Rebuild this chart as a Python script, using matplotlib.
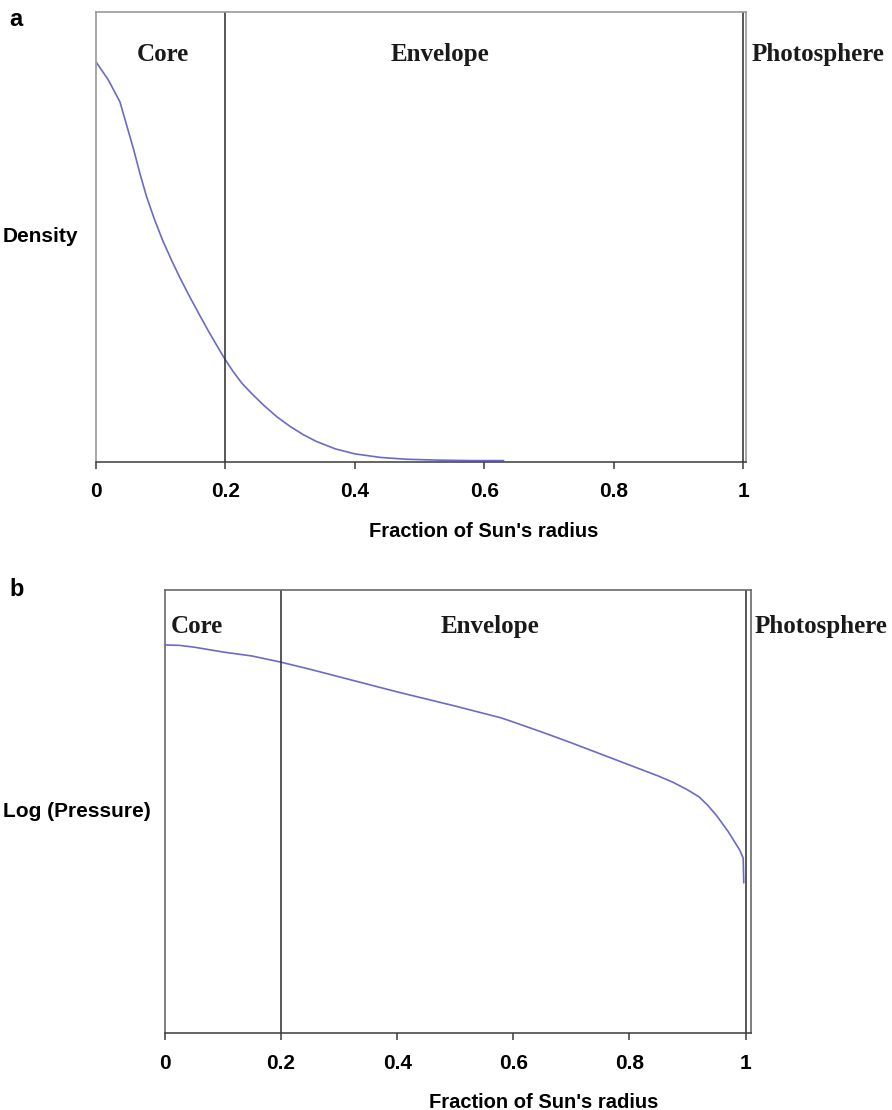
import matplotlib
matplotlib.use("Agg")
import matplotlib.pyplot as plt

# Radial profiles, r in fractions of the solar radius, values in relative units
density_r = [0.0, 0.019, 0.037, 0.047, 0.058, 0.068, 0.078, 0.09, 0.103, 0.117,
             0.13, 0.145, 0.16, 0.175, 0.19, 0.2, 0.212, 0.225, 0.24, 0.26,
             0.28, 0.30, 0.32, 0.34, 0.37, 0.40, 0.44, 0.48, 0.53, 0.58, 0.63]
density_v = [0.889, 0.849, 0.800, 0.750, 0.695, 0.640, 0.590, 0.540, 0.492, 0.447,
             0.408, 0.366, 0.326, 0.287, 0.250, 0.226, 0.200, 0.175, 0.152, 0.124,
             0.099, 0.078, 0.060, 0.045, 0.028, 0.017, 0.009, 0.005, 0.003, 0.002,
             0.002]

pressure_r = [0.0, 0.025, 0.05, 0.1, 0.15, 0.2, 0.25, 0.3, 0.35, 0.4, 0.45, 0.5,
              0.58, 0.6, 0.65, 0.7, 0.75, 0.8, 0.85, 0.875, 0.9, 0.92, 0.935,
              0.95, 0.97, 0.99, 0.996, 0.997]
pressure_v = [0.876, 0.875, 0.871, 0.860, 0.851, 0.837, 0.821, 0.804, 0.787, 0.770,
              0.754, 0.738, 0.711, 0.702, 0.679, 0.655, 0.630, 0.605, 0.580, 0.566,
              0.549, 0.533, 0.514, 0.491, 0.455, 0.413, 0.395, 0.339]

tick_values = [0, 0.2, 0.4, 0.6, 0.8, 1]
tick_labels = ["0", "0.2", "0.4", "0.6", "0.8", "1"]
boundaries = [0.2, 1.0]
zones = ["Core", "Envelope", "Photosphere"]

W, H = 892, 1110
fig = plt.figure(figsize=(W / 100, H / 100), dpi=100)

sans = "Liberation Sans"
serif = "Liberation Serif"
curve_color = "#6b6bc6"


def px_rect(left, top, right, bottom):
    return [left / W, 1 - bottom / H, (right - left) / W, (bottom - top) / H]


def panel(rect, xmax, r, v, ylabel, letter, letter_xy, label_x, zone_pos, frame_color):
    ax = fig.add_axes(rect)
    ax.plot(r, v, color=curve_color, lw=1.2, solid_capstyle="round",
            solid_joinstyle="round")
    ax.set_xlim(0, xmax)
    ax.set_ylim(0, 1)
    for b in boundaries:
        ax.axvline(b, color="#2a2a2a", lw=1.1)
    for side in ("left", "top", "right"):
        ax.spines[side].set_color(frame_color)
        ax.spines[side].set_linewidth(1.2)
    ax.spines["bottom"].set_color("#3a3a3a")
    ax.spines["bottom"].set_linewidth(1.1)
    ax.set_yticks([])
    ax.set_xticks(tick_values)
    ax.set_xticklabels(tick_labels, fontfamily=sans, fontweight="bold", fontsize=15)
    ax.tick_params(axis="x", direction="out", length=5, width=1.1,
                   color="#3a3a3a", pad=10)
    ax.set_xlabel("Fraction of Sun's radius", fontfamily=sans, fontweight="bold",
                  fontsize=14.5)
    ax.xaxis.set_label_coords(label_x, -0.135)
    # y-axis caption at the left edge of the figure
    pos = ax.get_position()
    fig.text(3 / W, pos.y0 + pos.height / 2, ylabel, fontfamily=sans,
             fontweight="bold", fontsize=15, ha="left", va="center")
    fig.text(letter_xy[0] / W, 1 - letter_xy[1] / H, letter, fontfamily=sans,
             fontweight="bold", fontsize=17, ha="left", va="center")
    for name, (zx, zy, ha) in zip(zones, zone_pos):
        ax.text(zx, zy, name, fontfamily=serif, fontweight="bold", fontsize=18,
                color="#1a1a1a", ha=ha, va="center", clip_on=False)
    return ax


# panel a: density
panel(px_rect(96, 12, 746, 461.5), 1.0046, density_r, density_v, "Density", "a",
      (9, 19), 0.597,
      [(0.104, 0.906, "center"), (0.532, 0.906, "center"), (1.013, 0.906, "left")],
      "#9a9a9a")

# panel b: log pressure
panel(px_rect(165, 590, 750.5, 1033), 1.0086, pressure_r, pressure_v,
      "Log (Pressure)", "b", (9, 589), 0.646,
      [(0.01, 0.918, "left"), (0.56, 0.918, "center"), (1.016, 0.918, "left")],
      "#6a6a6a")

fig.savefig("out.png", dpi=100, facecolor="white")
